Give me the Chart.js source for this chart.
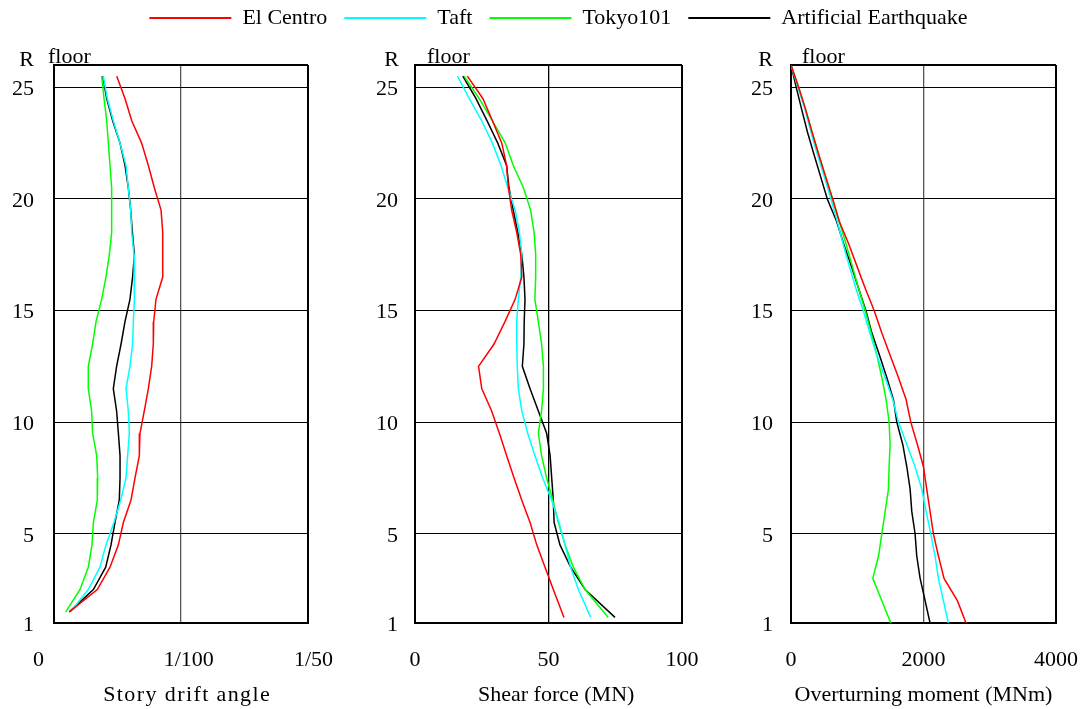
<!DOCTYPE html>
<html><head><meta charset="utf-8">
<script src="https://cdn.jsdelivr.net/npm/chart.js@4.4.1/dist/chart.umd.min.js"></script>
<style>
html,body{margin:0;padding:0;background:#fff;}
#wrap{position:relative;width:1085px;height:709px;overflow:hidden;background:#fff;}
canvas{position:absolute;}
</style></head><body>
<div id="wrap">
<canvas id="c1" width="360" height="709" style="left:0px;top:0px"></canvas>
<canvas id="c2" width="360" height="709" style="left:360px;top:0px"></canvas>
<canvas id="c3" width="365" height="709" style="left:720px;top:0px"></canvas>
<canvas id="lg" width="1085" height="140" style="left:0px;top:-10px"></canvas>
</div>
<script>
const seriesNames = ['El Centro', 'Taft', 'Tokyo101', 'Artificial Earthquake'];
const seriesColors = ['#ff0000', '#00ffff', '#00ff00', '#000000'];

// floor levels (mid-story for drift and shear, floor level for moment)
const driftFloors = [25.5,24.5,23.5,22.5,21.5,20.5,19.5,18.5,17.5,16.5,15.5,14.5,13.5,12.5,11.5,10.5,9.5,8.5,7.5,6.5,5.5,4.5,3.5,2.5,1.5];
const shearFloors = [25.5,24.5,23.5,22.5,21.5,20.5,19.5,18.5,17.5,16.5,15.5,14.5,13.5,12.5,11.5,10.5,9.5,8.5,7.5,6.5,5.5,4.5,3.5,2.5,1.25];
const momentFloors = [26,25,24,23,22,21,20,19,18,17,16,15,14,13,12,11,10,9,8,7,6,5,4,3,2,1];

// story drift angle (rad)
const driftElCentro = [0.00494,0.00559,0.00612,0.00690,0.00743,0.00790,0.00843,0.00856,0.00856,0.00856,0.00803,0.00785,0.00782,0.00769,0.00743,0.00711,0.00677,0.00672,0.00638,0.00606,0.00546,0.00507,0.00441,0.00341,0.00121];
const driftTaft = [0.00388,0.00420,0.00467,0.00520,0.00567,0.00585,0.00604,0.00612,0.00630,0.00633,0.00633,0.00625,0.00619,0.00598,0.00567,0.00585,0.00593,0.00580,0.00567,0.00525,0.00472,0.00409,0.00362,0.00270,0.00131];
const driftTokyo101 = [0.00375,0.00394,0.00415,0.00428,0.00441,0.00454,0.00454,0.00454,0.00436,0.00409,0.00375,0.00331,0.00304,0.00270,0.00270,0.00296,0.00304,0.00336,0.00344,0.00341,0.00310,0.00299,0.00270,0.00205,0.00092];
const driftArtificial = [0.00383,0.00415,0.00462,0.00520,0.00559,0.00585,0.00604,0.00617,0.00633,0.00619,0.00598,0.00559,0.00528,0.00493,0.00467,0.00493,0.00507,0.00520,0.00520,0.00514,0.00480,0.00449,0.00407,0.00310,0.00121];

// shear force (MN)
const shearElCentro = [19.6,25.4,29.0,32.5,34.3,35.0,36.2,38.1,39.6,40.0,37.5,33.7,29.6,23.8,25.0,28.7,31.6,34.3,37.1,40.0,43.1,45.6,48.7,51.8,55.8];
const shearTaft = [15.9,20.3,25.0,29.0,32.2,34.8,37.5,39.1,40.0,39.6,38.7,38.1,38.1,38.3,38.7,40.0,42.2,44.9,47.8,51.2,53.9,56.2,58.3,61.2,65.8];
const shearTokyo101 = [18.4,24.0,29.0,33.8,36.8,40.6,43.3,44.6,45.2,45.2,44.9,46.2,47.4,48.1,48.1,47.4,46.2,47.4,49.3,51.6,53.7,56.2,59.3,63.7,72.4];
const shearArtificial = [17.9,22.8,27.0,31.0,34.3,35.2,36.8,38.5,40.0,40.8,41.2,40.9,40.8,40.2,43.1,46.2,49.3,50.6,51.2,51.8,52.1,54.3,58.3,63.7,74.9];

// overturning moment (MNm)
const momentElCentro = [0,115,221,317,417,522,628,728,868,994,1120,1255,1370,1496,1622,1738,1808,1908,1999,2049,2099,2149,2225,2310,2511,2642];
const momentTaft = [0,105,211,302,397,502,603,698,785,879,979,1090,1190,1296,1421,1537,1622,1748,1873,1974,2039,2109,2175,2225,2300,2375];
const momentTokyo101 = [0,115,221,317,417,522,628,728,829,924,1019,1120,1210,1296,1371,1436,1481,1496,1481,1471,1421,1371,1321,1235,1371,1507];
const momentArtificial = [0,79,162,248,346,447,548,688,793,909,1019,1130,1220,1336,1446,1547,1597,1687,1748,1798,1823,1873,1898,1949,2024,2099];

// axis ticks
const floorTicks = [1,5,10,15,20,25,26];
const driftTicks = [0,0.01,0.02];
const driftTickLabels = ['0\u2003\u2009\u2009', '\u2002\u20091/100', '\u20021/50'];
const shearTicks = [0,50,100];
const shearTickLabels = ['0','50','100'];
const momentTicks = [0,2000,4000];
const momentTickLabels = ['0','2000','4000'];

const FONT = {family: '"Liberation Serif", "Times New Roman", serif', size: 22};
Chart.defaults.font.family = FONT.family;
Chart.defaults.color = '#000';

function floorLabelPlugin(rRight, floorLeft, titleSpacing) {
  return {
    id: 'floorLabel',
    afterLayout(chart) {
      const sx = chart.scales.x;
      if (titleSpacing && !sx._spacedTitle) {
        const orig = sx.drawTitle;
        sx.drawTitle = function () {
          const ctx = this.ctx;
          const prev = ctx.letterSpacing;
          ctx.letterSpacing = titleSpacing;
          orig.apply(this, arguments);
          ctx.letterSpacing = prev || '0px';
        };
        sx._spacedTitle = true;
      }
    },
    afterDraw(chart) {
      const ctx = chart.ctx;
      ctx.save();
      ctx.font = '22px ' + FONT.family;
      ctx.fillStyle = '#000';
      ctx.textBaseline = 'alphabetic';
      ctx.textAlign = 'right';
      ctx.fillText('R', rRight, 66);
      ctx.textAlign = 'left';
      ctx.fillText('floor', floorLeft, 63);
      ctx.restore();
    }
  };
}

function makePanel(id, cfg) {
  const datasets = seriesNames.map((name, i) => ({
    label: name,
    data: cfg.floors.map((f, j) => ({x: cfg.values[i][j], y: f})),
    showLine: true,
    borderColor: seriesColors[i],
    backgroundColor: seriesColors[i],
    borderWidth: 1.5,
    pointRadius: 0,
    tension: 0,
    fill: false
  }));
  const xEdge = [cfg.xTicks[0], cfg.xTicks[cfg.xTicks.length - 1]];
  new Chart(document.getElementById(id), {
    type: 'scatter',
    data: {datasets},
    options: {
      responsive: false,
      animation: false,
      events: [],
      layout: {padding: {left: 0, top: 65, right: cfg.padRight, bottom: 0}},
      plugins: {legend: {display: false}, tooltip: {enabled: false}},
      scales: {
        x: {
          type: 'linear',
          min: cfg.xTicks[0],
          max: cfg.xTicks[cfg.xTicks.length - 1],
          afterBuildTicks: s => { s.ticks = cfg.xTicks.map(v => ({value: v})); },
          afterFit: s => { s.height = 86; },
          ticks: {
            callback: (v, i) => cfg.xLabels[i],
            padding: 0,
            font: FONT,
            color: '#000',
            maxRotation: 0,
            autoSkip: false
          },
          grid: {
            drawTicks: true,
            tickLength: 24,
            tickColor: 'rgba(0,0,0,0)',
            color: c => (xEdge.includes(c.tick.value) ? '#000' : cfg.midColor),
            lineWidth: c => (xEdge.includes(c.tick.value) ? 2 : 1.3)
          },
          border: {display: true, color: '#000', width: 2},
          title: {display: true, text: cfg.title, font: FONT, color: '#000', padding: {top: 0, bottom: 1}}
        },
        y: {
          type: 'linear',
          min: 1,
          max: 26,
          afterBuildTicks: s => { s.ticks = floorTicks.map(v => ({value: v})); },
          afterFit: s => { s.width = cfg.yWidth; },
          ticks: {
            callback: v => (v === 26 ? '' : String(v)),
            padding: cfg.yPad,
            labelOffset: 2,
            font: FONT,
            color: '#000',
            autoSkip: false
          },
          grid: {
            drawTicks: false,
            color: '#000',
            lineWidth: c => ((c.tick.value === 1 || c.tick.value === 26) ? 2 : 1)
          },
          border: {display: true, color: '#000', width: 2}
        }
      }
    },
    plugins: [floorLabelPlugin(cfg.rRight, cfg.floorLeft, cfg.titleSpacing)]
  });
}

makePanel('c1', {
  floors: driftFloors,
  values: [driftElCentro, driftTaft, driftTokyo101, driftArtificial],
  xTicks: driftTicks, xLabels: driftTickLabels,
  title: '\u2002Story drift angle', titleSpacing: '1.4px',
  padRight: 52, yWidth: 54, yPad: 20, midColor: '#555',
  rRight: 34, floorLeft: 48
});
makePanel('c2', {
  floors: shearFloors,
  values: [shearElCentro, shearTaft, shearTokyo101, shearArtificial],
  xTicks: shearTicks, xLabels: shearTickLabels,
  title: '\u2002\u2009Shear force (MN)', titleSpacing: null,
  padRight: 38, yWidth: 55, yPad: 17, midColor: '#000',
  rRight: 39, floorLeft: 67
});
makePanel('c3', {
  floors: momentFloors,
  values: [momentElCentro, momentTaft, momentTokyo101, momentArtificial],
  xTicks: momentTicks, xLabels: momentTickLabels,
  title: 'Overturning moment (MNm)', titleSpacing: null,
  padRight: 29, yWidth: 71, yPad: 18, midColor: '#555',
  rRight: 53, floorLeft: 82
});

// shared legend
new Chart(document.getElementById('lg'), {
  type: 'scatter',
  data: {datasets: seriesNames.map((name, i) => ({label: name, data: [], borderColor: seriesColors[i], backgroundColor: seriesColors[i], borderWidth: 2}))},
  options: {
    responsive: false,
    animation: false,
    events: [],
    layout: {padding: {left: 32, top: 0, right: 0, bottom: 0}},
    scales: {x: {display: false}, y: {display: false}},
    plugins: {
      tooltip: {enabled: false},
      legend: {
        display: true,
        position: 'top',
        align: 'center',
        labels: {usePointStyle: true, pointStyle: 'line', pointStyleWidth: 82, font: FONT, color: '#000', padding: 17}
      }
    }
  }
});
</script>
</body></html>
